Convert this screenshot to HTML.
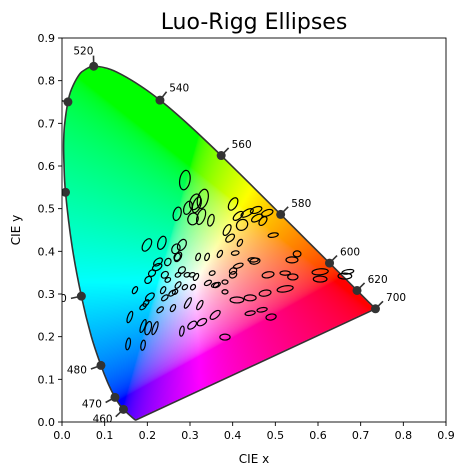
<!DOCTYPE html>
<html><head><meta charset="utf-8"><style>
html,body{margin:0;padding:0;background:#fff;}
#wrap{position:relative;width:467px;height:475px;font-family:"DejaVu Sans","Liberation Sans",sans-serif;}
canvas{position:absolute;left:62px;top:38px;}
svg{position:absolute;left:0;top:0;}
</style></head><body>
<div id="wrap">
<canvas id="cv" width="384" height="384"></canvas>
<svg id="sv" width="467" height="475">
<text x="254" y="29" font-size="22" text-anchor="middle">Luo-Rigg Ellipses</text>
</svg>
</div>
<script>
const wl=[380,420,440,450,460,465,470,475,480,485,490,495,500,503,505,507,510,512,515,517,520,525,530,535,540,545,550,555,560,565,570,575,580,585,590,595,600,605,610,620,630,640,650,700];
const lx=[0.1741,0.1714,0.1644,0.1566,0.1440,0.1355,0.1241,0.1096,0.0913,0.0687,0.0454,0.0235,0.0082,0.0046,0.0039,0.0060,0.0139,0.0223,0.0389,0.0529,0.0743,0.1142,0.1547,0.1929,0.2296,0.2658,0.3016,0.3373,0.3731,0.4087,0.4441,0.4788,0.5125,0.5448,0.5752,0.6029,0.6270,0.6482,0.6658,0.6915,0.7079,0.7190,0.7260,0.7347];
const ly=[0.0050,0.0051,0.0109,0.0177,0.0297,0.0399,0.0578,0.0868,0.1327,0.2007,0.2950,0.4127,0.5384,0.6080,0.6548,0.6960,0.7502,0.7800,0.8120,0.8250,0.8338,0.8262,0.8059,0.7816,0.7543,0.7243,0.6923,0.6589,0.6245,0.5896,0.5547,0.5202,0.4866,0.4544,0.4242,0.3965,0.3725,0.3514,0.3340,0.3083,0.2920,0.2809,0.2740,0.2653];
const markWl=[460,470,480,490,500,510,520,540,560,580,600,620,700];
const ticks=[0,0.1,0.2,0.3,0.4,0.5,0.6,0.7,0.8,0.9];
const tickLabels=["0.0","0.1","0.2","0.3","0.4","0.5","0.6","0.7","0.8","0.9"];
const ex=[0.288,0.312,0.330,0.295,0.316,0.307,0.326,0.270,0.349,0.199,0.234,0.281,0.267,0.272,0.387,0.401,0.413,0.434,0.455,0.481,0.457,0.471,0.422,0.394,0.495,0.406,0.551,0.448,0.225,0.248,0.223,0.211,0.202,0.241,0.248,0.270,0.281,0.272,0.293,0.305,0.314,0.319,0.340,0.352,0.342,0.171,0.206,0.197,0.190,0.237,0.272,0.288,0.307,0.258,0.241,0.265,0.295,0.323,0.230,0.260,0.159,0.190,0.202,0.218,0.155,0.190,0.281,0.305,0.328,0.359,0.363,0.370,0.413,0.401,0.401,0.452,0.539,0.483,0.523,0.541,0.605,0.605,0.382,0.359,0.382,0.410,0.441,0.476,0.523,0.441,0.469,0.490,0.382,0.663,0.670,0.417];
const ey=[0.567,0.516,0.523,0.502,0.509,0.476,0.481,0.488,0.473,0.415,0.420,0.415,0.406,0.387,0.450,0.511,0.483,0.490,0.497,0.490,0.478,0.471,0.462,0.431,0.438,0.396,0.394,0.380,0.375,0.375,0.363,0.349,0.333,0.345,0.333,0.387,0.356,0.345,0.345,0.345,0.340,0.387,0.387,0.349,0.326,0.309,0.293,0.279,0.270,0.309,0.321,0.316,0.316,0.302,0.291,0.305,0.279,0.274,0.263,0.267,0.246,0.225,0.220,0.220,0.183,0.180,0.213,0.227,0.234,0.251,0.321,0.394,0.366,0.354,0.345,0.377,0.380,0.345,0.349,0.340,0.352,0.335,0.328,0.321,0.305,0.286,0.291,0.302,0.312,0.255,0.263,0.246,0.199,0.342,0.352,0.420];
const ea=[0.023,0.019,0.023,0.016,0.019,0.014,0.019,0.016,0.014,0.016,0.016,0.014,0.012,0.012,0.014,0.016,0.014,0.016,0.014,0.014,0.014,0.012,0.014,0.012,0.012,0.009,0.009,0.012,0.012,0.009,0.012,0.009,0.009,0.009,0.007,0.009,0.009,0.007,0.007,0.007,0.009,0.009,0.009,0.007,0.009,0.009,0.012,0.009,0.009,0.009,0.009,0.007,0.007,0.009,0.009,0.007,0.014,0.012,0.009,0.009,0.014,0.016,0.016,0.016,0.014,0.012,0.012,0.012,0.012,0.014,0.009,0.009,0.012,0.009,0.009,0.012,0.014,0.014,0.012,0.012,0.019,0.016,0.007,0.009,0.007,0.016,0.014,0.014,0.019,0.012,0.012,0.012,0.012,0.016,0.014,0.009];
const eb=[0.012,0.012,0.012,0.009,0.009,0.012,0.009,0.009,0.007,0.009,0.009,0.009,0.009,0.007,0.007,0.009,0.007,0.007,0.007,0.007,0.007,0.007,0.012,0.007,0.005,0.005,0.007,0.005,0.007,0.007,0.007,0.007,0.007,0.007,0.005,0.007,0.007,0.005,0.005,0.005,0.005,0.005,0.005,0.005,0.005,0.005,0.007,0.005,0.005,0.005,0.005,0.005,0.005,0.005,0.005,0.005,0.005,0.005,0.005,0.005,0.005,0.005,0.007,0.005,0.005,0.005,0.005,0.007,0.007,0.007,0.005,0.005,0.005,0.007,0.007,0.007,0.007,0.007,0.005,0.007,0.007,0.007,0.005,0.005,0.005,0.007,0.007,0.007,0.007,0.005,0.005,0.007,0.007,0.007,0.005,0.005];
const eang=[80,70,75,70,70,70,70,75,75,60,70,60,60,60,60,60,40,30,20,20,30,50,40,40,10,10,0,0,40,60,30,40,50,40,30,60,40,30,20,20,60,70,70,20,30,60,40,50,40,60,50,40,50,40,40,40,60,60,40,60,70,70,75,70,80,80,80,40,30,40,30,60,20,30,30,10,0,10,0,0,5,0,0,20,0,0,0,10,10,10,10,10,0,0,10,60];

const L=62,T=38,S=384/0.9;
const X=v=>L+v*S, Y=v=>T+384-v*S;
const NS='http://www.w3.org/2000/svg';
const sv=document.getElementById('sv');
function mk(tag,attrs,parent){const e=document.createElementNS(NS,tag);for(const k in attrs)e.setAttribute(k,attrs[k]);(parent||sv).appendChild(e);return e;}

// smooth path segments (Catmull-Rom -> bezier) in pixel coords
function smoothSegs(px,py){
 const n=px.length,segs=[];
 for(let i=0;i<n-1;i++){
  const p0=i>0?i-1:i,p3=i+2<n?i+2:i+1;
  segs.push([px[i]+(px[i+1]-px[p0])/6,py[i]+(py[i+1]-py[p0])/6,px[i+1]-(px[p3]-px[i])/6,py[i+1]-(py[p3]-py[i])/6,px[i+1],py[i+1]]);
 }
 return segs;
}

// fill canvas
const cv=document.getElementById('cv'),ctx=cv.getContext('2d');
const off=document.createElement('canvas');off.width=384;off.height=384;
const oc=off.getContext('2d'),img=oc.createImageData(384,384);
const g=c=>c<=0.0031308?12.92*c:1.055*Math.pow(c,1/2.4)-0.055;
for(let j=0;j<384;j++){for(let i=0;i<384;i++){
 const x=(i+0.5)/S,y=(384-j-0.5)/S;const k=(j*384+i)*4;
 if(y<=0.001){img.data[k+3]=0;continue;}
 const XX=x/y,ZZ=(1-x-y)/y;
 let r=3.2406*XX-1.5372-0.4986*ZZ,gg=-0.9689*XX+1.8758+0.0415*ZZ,b=0.0557*XX-0.2040+1.0570*ZZ;
 r=Math.max(r,0);gg=Math.max(gg,0);b=Math.max(b,0);const m=Math.max(r,gg,b)||1;
 img.data[k]=255*g(r/m);img.data[k+1]=255*g(gg/m);img.data[k+2]=255*g(b/m);img.data[k+3]=255;}}
oc.putImageData(img,0,0);
const cpx=lx.map(v=>v*S),cpy=ly.map(v=>384-v*S);
ctx.beginPath();ctx.moveTo(cpx[0],cpy[0]);
smoothSegs(cpx,cpy).forEach(s=>ctx.bezierCurveTo(s[0],s[1],s[2],s[3],s[4],s[5]));
ctx.closePath();ctx.clip();ctx.drawImage(off,0,0);

// clip
const defs=mk('defs',{});const cp=mk('clipPath',{id:'pc'},defs);mk('rect',{x:L,y:T,width:384,height:384},cp);
const gp=mk('g',{'clip-path':'url(#pc)'});


const spx=lx.map(X),spy=ly.map(Y);
let d='M'+spx[0].toFixed(2)+','+spy[0].toFixed(2);
smoothSegs(spx,spy).forEach(s=>{d+='C'+s.map(v=>v.toFixed(2)).join(',');});d+='Z';
const loc=mk('path',{d:d,fill:'none',stroke:'#333','stroke-width':1.6},gp);



// ellipses
ex.forEach((v,i)=>{
 const e=mk('ellipse',{cx:X(v),cy:Y(ey[i]),rx:ea[i]*S,ry:eb[i]*S,transform:`rotate(${-eang[i]} ${X(v)} ${Y(ey[i])})`,fill:'none',stroke:'#000','stroke-width':1.2},gp);
 
 
});

// wavelength markers
markWl.forEach(w=>{
 const i=wl.indexOf(w);const x=lx[i],y=ly[i];
 const i0=Math.max(i-1,0),i1=Math.min(i+1,wl.length-1);
 let tx=lx[i1]-lx[i0],ty=ly[i1]-ly[i0];const n=Math.hypot(tx,ty);tx/=n;ty/=n;
 let nx=ty,ny=-tx; if(nx*(x-0.33)+ny*(y-0.33)<0){nx=-nx;ny=-ny;}
 const ln=mk('line',{x1:X(x),y1:Y(y),x2:X(x+nx*0.025),y2:Y(y+ny*0.025),stroke:'#333','stroke-width':1.6},gp);
 
 
 const c=mk('circle',{cx:X(x),cy:Y(y),r:4.5,fill:'#333'},gp);
 
 
 const t=mk('text',{x:X(x+nx*0.035),y:Y(y+ny*0.035)+3,'font-size':10.5,'text-anchor':nx<0?'end':'start'},gp);
 t.textContent=w;
 
 
});

// frame and axes
const fr=mk('rect',{x:L,y:T,width:384,height:384,fill:'none',stroke:'#000','stroke-width':0.9});


ticks.forEach((v,i)=>{
 const a=mk('line',{x1:X(v),y1:T+384,x2:X(v),y2:T+388,stroke:'#000','stroke-width':0.9});
 
 
 const tx=mk('text',{x:X(v),y:T+401,'font-size':11,'text-anchor':'middle'});tx.textContent=tickLabels[i];
 
 
 const b=mk('line',{x1:L-4,y1:Y(v),x2:L,y2:Y(v),stroke:'#000','stroke-width':0.9});
 
 
 const ty=mk('text',{x:L-7,y:Y(v)+4,'font-size':11,'text-anchor':'end'});ty.textContent=tickLabels[i];
 
 
});
const xt=mk('text',{x:254,y:463,'font-size':12,'text-anchor':'middle'});xt.textContent='CIE x';


const yt=mk('text',{x:0,y:0,'font-size':12,'text-anchor':'middle',transform:'translate(20,230) rotate(-90)'});yt.textContent='CIE y';


</script>
</body></html>
